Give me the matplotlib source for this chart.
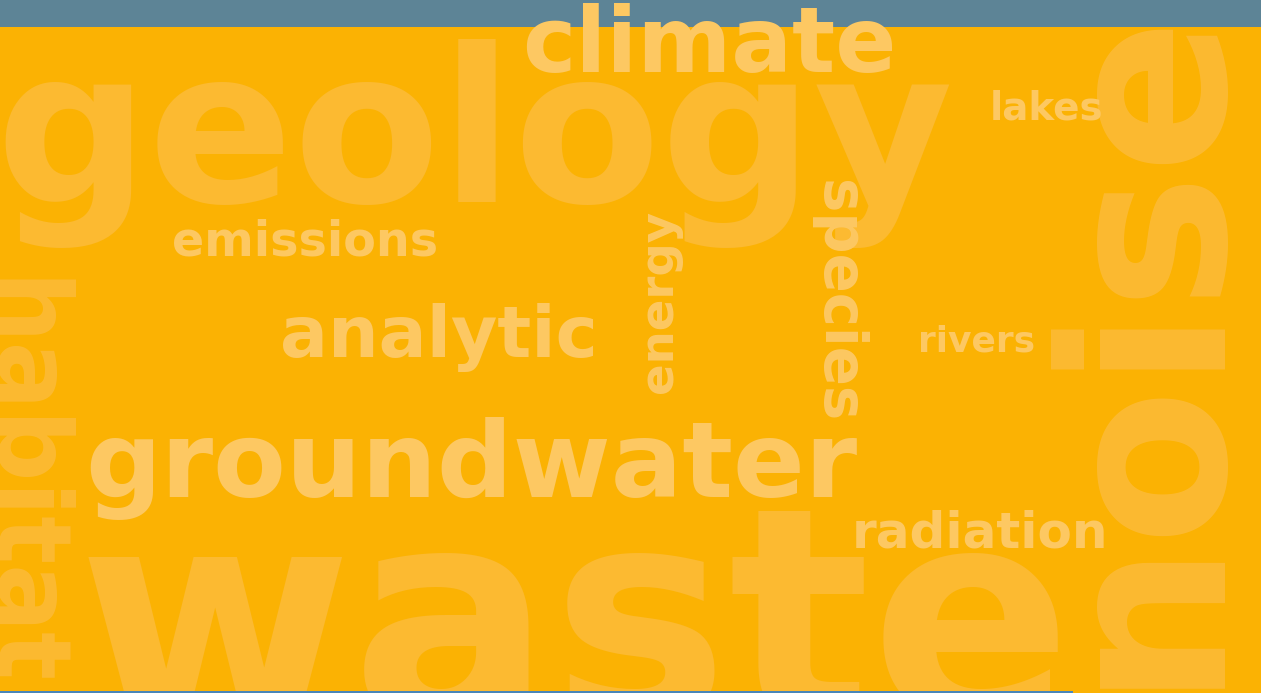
"""Word cloud banner: environmental topics on an orange field."""
import matplotlib
matplotlib.use("Agg")
import matplotlib.pyplot as plt
from matplotlib.patches import Rectangle

W, H = 1261, 693

BG = "#FBB203"
BAR = "#5D8496"
LINE = "#4A86B8"
FAINT = "#FCBA31"   # big background words
LIGHT = "#FDC862"   # smaller foreground words

# words and their tone (1 = faint background word, 0 = light foreground word)
words = ["geology", "waste", "noise", "habitat", "climate", "lakes",
         "emissions", "analytic", "energy", "species", "rivers",
         "groundwater", "radiation"]
faint = [1, 1, 1, 1, 0, 0, 0, 0, 0, 0, 0, 0, 0]

# layout in pixels (y down): baseline anchor, length along text, rotation
anchor_x = [-5, 78, 1230, 0, 522, 990, 172, 280, 677, 827, 918, 85, 852]
anchor_y = [202, 719, 688, 278, 72, 120, 255, 357, 393, 180, 352, 497, 547]
span = [958, 995, 690, 410, 374, 114, 266, 318, 183, 242, 117, 773, 256]
rotation = [0, 0, 90, -90, 0, 0, 0, 0, 90, -90, 0, 0, 0]


def main():
    fig = plt.figure(figsize=(W / 100, H / 100), dpi=100)
    fig.patch.set_facecolor(BG)
    ax = fig.add_axes([0, 0, 1, 1])
    ax.set_xlim(0, W)
    ax.set_ylim(H, 0)
    ax.axis("off")

    ax.add_patch(Rectangle((0, 0), W, 27, color=BAR, zorder=2, lw=0))
    ax.add_patch(Rectangle((0, 690.5), 1073, 3, color=LINE, zorder=4, lw=0))

    renderer = fig.canvas.get_renderer()
    for word, f, x, y, L, rot in zip(words, faint, anchor_x, anchor_y, span, rotation):
        t = ax.text(x, y, word, fontsize=100, fontweight="bold", family="DejaVu Sans",
                    rotation=rot, rotation_mode="anchor", ha="left", va="baseline",
                    color=FAINT if f else LIGHT, zorder=1 if f else 3)
        bb = t.get_window_extent(renderer)
        size = bb.width if rot == 0 else bb.height
        fs = 100 * L / size
        t.set_fontsize(fs)
        if rot:
            # rotated glyphs land a little right of the anchor; pull them back
            t.set_x(x - 0.1 * fs * 100 / 72)

    fig.savefig("out.png", dpi=100, facecolor=BG)
    plt.close(fig)


if __name__ == "__main__":
    main()
